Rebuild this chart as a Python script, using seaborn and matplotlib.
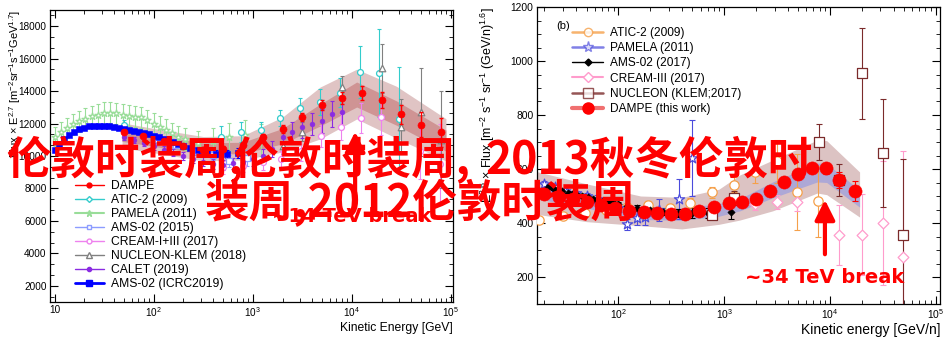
import numpy as np
import matplotlib
matplotlib.use('Agg')
import matplotlib.pyplot as plt
from matplotlib.lines import Line2D
from matplotlib.ticker import MultipleLocator, LogLocator, NullFormatter
import seaborn as sns

sns.set_theme(style='ticks')
plt.rcParams['font.family'] = ['Liberation Sans', 'DejaVu Sans']
plt.rcParams['mathtext.default'] = 'regular'
plt.rcParams.update({'axes.edgecolor': 'black', 'xtick.color': 'black', 'ytick.color': 'black',
                     'text.color': 'black', 'axes.labelcolor': 'black'})

# ---------------- left panel: proton flux x E^2.7 ----------------
l_band_e = [48, 100, 316, 794, 2000, 4790, 11200, 28200, 89100]
l_outer_hi = [12050, 11700, 11200, 11250, 12400, 14250, 15350, 14300, 12300]
l_inner_hi = [11700, 11300, 10800, 10850, 11700, 13200, 14560, 13400, 11600]
l_inner_lo = [10900, 10600, 10100, 10150, 10750, 11850, 13020, 11900, 10300]
l_outer_lo = [10500, 10200, 9700, 9750, 10250, 11050, 12280, 11100, 9700]

dampe_l_e = [50, 79, 126, 200, 316, 501, 794, 1260, 2000, 3160, 5010, 7940, 12600, 20000, 31600, 50100, 79400]
dampe_l_f = [11480, 11240, 10950, 10620, 10400, 10450, 10680, 11170, 11670, 12400, 13150, 13570, 13880, 13450, 12560, 11940, 11450]
dampe_l_err = [120, 120, 120, 130, 140, 150, 170, 200, 230, 260, 300, 350, 420, 500, 600, 750, 900]

atic_l_e = [50, 479, 759, 1200, 1900, 3020, 4790, 7590, 12000, 19000, 30200]
atic_l_f = [11900, 11170, 11480, 11600, 12340, 12960, 13300, 13900, 15170, 15100, 12300]
atic_l_err = [300, 700, 600, 500, 500, 600, 800, 900, 1600, 2700, 3200]

pam_l_e = [10.0, 11.5, 13.3, 15.4, 17.8, 20.5, 23.7, 27.4, 31.6, 36.5, 42.2, 48.7, 56.2, 64.9, 75.0,
           86.6, 100, 115, 133, 154, 178, 205, 282, 398, 575, 832, 1200]
pam_l_f = [11200, 11450, 11700, 11950, 12150, 12300, 12450, 12550, 12650, 12680, 12620, 12550, 12470, 12420, 12380,
           12200, 11980, 11800, 11600, 11400, 11200, 11050, 10800, 10950, 11170, 11300, 11000]
pam_l_err = [600, 620, 620, 640, 650, 650, 650, 650, 650, 650, 650, 650, 650, 650, 650,
             650, 650, 650, 660, 660, 680, 700, 750, 800, 850, 900, 1000]

ams15_e = [110, 170, 260, 400, 575, 870]
ams15_f = [11050, 10650, 10300, 10050, 9700, 9900]
ams15_err = [150, 180, 220, 280, 350, 500]

cream_l_e = [501, 794, 1260, 1950, 3090, 4900, 7760, 12300, 19500, 48900, 77600]
cream_l_f = [9300, 9400, 9600, 9820, 10300, 11230, 11790, 12340, 12400, 10310, 9500]
cream_l_err = [400, 400, 450, 500, 600, 700, 800, 900, 1100, 1700, 2500]

nuc_l_e = [2000, 3160, 7940, 20000, 31600, 50100, 79400]
nuc_l_f = [10600, 11500, 14250, 15400, 11800, 12700, 11000]
nuc_l_err = [500, 600, 700, 1500, 1700, 2700, 3000]

calet_e = [50.1, 63.1, 79.4, 100, 126, 158, 200, 251, 316, 398, 501, 631, 794, 1000, 1260, 1580,
           2000, 2510, 3160, 3980, 5010, 6310, 7940]
calet_f = [11200, 11000, 10800, 10600, 10400, 10200, 10000, 9800, 9650, 9500, 9450, 9550, 9630, 9800, 10000, 10450,
           11170, 11480, 11790, 11970, 12160, 12590, 12710]
calet_err = [200, 200, 200, 200, 200, 220, 240, 260, 280, 300, 320, 350, 380, 400, 450, 500,
             550, 600, 650, 700, 750, 800, 900]

ams19_e = [10, 11.2, 12.6, 14.1, 15.8, 17.8, 20.0, 22.4, 25.1, 28.2, 31.6, 35.5, 39.8, 44.7, 50.1, 56.2, 63.1,
           70.8, 79.4, 89.1, 100, 112, 126, 141, 158, 178, 200, 234, 282, 347, 427, 550, 708]
ams19_f = [10400, 10750, 11050, 11300, 11500, 11650, 11750, 11820, 11850, 11860, 11850, 11820, 11780, 11730, 11670,
           11610, 11540, 11470, 11400, 11330, 11250, 11160, 11060, 10950, 10840, 10730, 10620, 10480, 10340, 10220,
           10150, 10130, 10190]
ams19_err = [60, 60, 60, 60, 60, 60, 60, 60, 60, 60, 60, 60, 60, 60, 70, 70, 70, 70, 80, 80, 80, 90, 90, 100,
             100, 110, 120, 140, 160, 190, 220, 260, 300]

legend_l = ['DAMPE', 'ATIC-2 (2009)', 'PAMELA (2011)', 'AMS-02 (2015)', 'CREAM-I+III (2017)',
            'NUCLEON-KLEM (2018)', 'CALET (2019)', 'AMS-02 (ICRC2019)']

# ---------------- right panel: helium flux x E^2.6 ----------------
r_band_e = [17, 50, 162, 398, 891, 1410, 2880, 7590, 9330, 19100]
r_outer_hi = [590, 545, 500, 495, 525, 578, 633, 707, 705, 589]
r_inner_hi = [535, 498, 459, 455, 472, 490, 552, 622, 620, 522]
r_inner_lo = [490, 455, 413, 410, 425, 445, 493, 552, 550, 459]
r_outer_lo = [432, 405, 390, 378, 395, 411, 445, 511, 505, 422]

dampe_r_e = [20, 27.5, 37.2, 50.1, 69.2, 93.3, 126, 174, 234, 316, 427, 575, 794, 1100, 1480, 2000, 2690,
             3720, 5010, 6760, 9120, 12300, 17400]
dampe_r_f = [508, 498, 488, 478, 465, 455, 446, 441, 437, 433, 433, 444, 459, 474, 478, 489, 519, 552, 581,
             604, 603, 559, 519]
dampe_r_err = [6, 6, 6, 6, 6, 6, 6, 7, 7, 7, 8, 8, 9, 10, 11, 12, 13, 15, 17, 18, 20, 30, 36]

atic_r_e = [17.8, 30, 48, 76, 120, 191, 309, 479, 776, 1230, 1950, 3160, 4900, 7760]
atic_r_f = [411, 425, 438, 448, 458, 467, 456, 474, 513, 541, 590, 628, 515, 480]
atic_r_err = [12, 12, 12, 13, 14, 15, 16, 20, 22, 28, 40, 80, 140, 130]

pam_r_e = [20, 25.1, 31.6, 39.8, 50.1, 63.1, 79.4, 100, 120, 151, 178, 240, 372, 501]
pam_r_f = [545, 535, 520, 510, 500, 490, 470, 455, 395, 418, 422, 448, 489, 640]
pam_r_err = [10, 10, 10, 10, 12, 12, 15, 15, 20, 25, 30, 40, 74, 140]

ams_r_e = [21.4, 23.9, 26.3, 29.5, 33.1, 36.3, 40.7, 45.7, 51.3, 57.5, 63.1, 70.8, 79.4, 89.1, 100, 120,
           151, 200, 263, 363, 501, 708, 1150]
ams_r_f = [533, 528, 522, 518, 511, 508, 504, 500, 496, 490, 485, 482, 478, 474, 470, 463, 456, 448, 442,
           437, 437, 437, 442]
ams_r_err = [6, 6, 6, 6, 6, 6, 6, 6, 6, 6, 7, 7, 7, 7, 8, 8, 9, 10, 12, 14, 17, 20, 26]

cream_r_e = [1950, 3160, 4900, 12300, 20000, 31600, 49000]
cream_r_f = [470, 478, 478, 356, 356, 400, 275]
cream_r_err = [20, 25, 35, 110, 150, 230, 390]

nuc_r_e = [776, 1230, 7940, 12300, 20000, 31600, 49000]
nuc_r_f = [430, 493, 700, 559, 954, 658, 356]
nuc_r_err = [15, 25, 67, 60, 170, 200, 280]

legend_r = ['ATIC-2 (2009)', 'PAMELA (2011)', 'AMS-02 (2017)', 'CREAM-III (2017)',
            'NUCLEON (KLEM;2017)', 'DAMPE (this work)']

# overlay text pieces, with their left edge in pixels
overlay_1 = ['伦敦时装周,', '伦敦时装周,', '2013秋冬伦敦时']
overlay_1_x = [6, 233, 485]
overlay_2 = '装周,2012伦敦时装周'


def draw(ax, e, f, err, color, marker, size, filled=True, lw=0.8, cap=1.5, z=3):
    ax.errorbar(e, f, yerr=err, fmt='none', ecolor=color, elinewidth=lw, capsize=cap,
                capthick=lw, zorder=z)
    if filled:
        sns.scatterplot(x=np.array(e), y=np.array(f), ax=ax, color=color, marker=marker, s=size,
                        edgecolor=color, linewidth=0.4, zorder=z + 0.5, legend=False)
    else:
        ax.scatter(e, f, s=size, marker=marker, facecolors='white', edgecolors=color,
                   linewidths=0.9, zorder=z + 0.5)


def style(ax, xlim, ylim, ymaj, ymin, xticks, xlabels):
    ax.set_xscale('log')
    ax.set_xlim(*xlim)
    ax.set_ylim(*ylim)
    ax.yaxis.set_major_locator(MultipleLocator(ymaj))
    ax.yaxis.set_minor_locator(MultipleLocator(ymin))
    ax.set_xticks(xticks, xlabels)
    ax.xaxis.set_minor_locator(LogLocator(base=10, subs=np.arange(2, 10)))
    ax.xaxis.set_minor_formatter(NullFormatter())
    ax.tick_params(which='both', direction='in', top=True, right=True, pad=2.5)
    ax.tick_params(which='major', length=6, width=0.8)
    ax.tick_params(which='minor', length=3, width=0.6)
    for sp in ax.spines.values():
        sp.set_color('black')
        sp.set_linewidth(0.9)


fig = plt.figure(figsize=(9.51, 3.52), dpi=100)
axL = fig.add_axes([50 / 951, 50 / 352, 403 / 951, 292 / 352])
axR = fig.add_axes([537 / 951, 48 / 352, 403 / 951, 297 / 352])

# ---- left panel ----
style(axL, (9, 1.05e5), (1000, 19000), 2000, 2000 / 3, [10, 1e2, 1e3, 1e4, 1e5],
      ['10', '$10^2$', '$10^3$', '$10^4$', '$10^5$'])
axL.fill_between(l_band_e, l_outer_lo, l_outer_hi, color='#e0c4c4', lw=0, zorder=1)
axL.fill_between(l_band_e, l_inner_lo, l_inner_hi, color='#cf9494', lw=0, zorder=1.1)

c_atic, c_pam, c_ams15, c_cream = '#33cccc', '#99dd99', '#8c9cff', '#ee82ee'
c_nuc, c_calet, c_ams19 = '#808080', '#8a2be2', '#0000ff'
draw(axL, pam_l_e, pam_l_f, pam_l_err, c_pam, '*', 28, filled=False)
draw(axL, ams15_e, ams15_f, ams15_err, c_ams15, 's', 14, filled=False)
draw(axL, atic_l_e, atic_l_f, atic_l_err, c_atic, 'o', 18, filled=False)
draw(axL, cream_l_e, cream_l_f, cream_l_err, c_cream, 'o', 18, filled=False)
draw(axL, nuc_l_e, nuc_l_f, nuc_l_err, c_nuc, '^', 22, filled=False)
draw(axL, calet_e, calet_f, calet_err, c_calet, 'o', 12)
draw(axL, ams19_e, ams19_f, ams19_err, c_ams19, 's', 16)
draw(axL, dampe_l_e, dampe_l_f, dampe_l_err, 'red', 'o', 26, lw=1.0, z=5)

axL.set_xlabel('Kinetic Energy [GeV]', loc='right', fontsize=8.7, labelpad=2)
axL.set_ylabel('Flux $\\times$ E$^{2.7}$ [m$^{-2}$sr$^{-1}$s$^{-1}$GeV$^{1.7}$]', loc='top', fontsize=8)
axL.yaxis.set_label_coords(-0.068, 1)
axL.tick_params(labelsize=7.2)

handles_l = [
    Line2D([], [], color='red', lw=1, marker='o', ms=3.5, mfc='red', mec='red'),
    Line2D([], [], color=c_atic, lw=1, marker='D', ms=3, mfc='white', mec=c_atic),
    Line2D([], [], color=c_pam, lw=1.5, marker='*', ms=5, mfc=c_pam, mec=c_pam),
    Line2D([], [], color=c_ams15, lw=1, marker='s', ms=3.5, mfc='white', mec=c_ams15),
    Line2D([], [], color=c_cream, lw=1, marker='o', ms=3.5, mfc='white', mec=c_cream),
    Line2D([], [], color=c_nuc, lw=1, marker='^', ms=4, mfc='white', mec=c_nuc),
    Line2D([], [], color=c_calet, lw=1, marker='o', ms=3, mfc=c_calet, mec=c_calet),
    Line2D([], [], color=c_ams19, lw=2, marker='s', ms=4, mfc=c_ams19, mec=c_ams19),
]
axL.legend(handles_l, legend_l, loc='upper left', bbox_to_anchor=(0.062, 0.418), frameon=False,
           fontsize=8.7, handlelength=2.4, handletextpad=0.6, labelspacing=0.17, borderpad=0,
           borderaxespad=0)

axL.annotate('', xy=(10800, 11670), xytext=(10800, 7000),
             arrowprops=dict(arrowstyle='-|>', color='red', lw=3, mutation_scale=30), zorder=6)
axL.text(9890, 6250, '~14 TeV break', color='red', fontsize=14, fontweight='bold',
         family='DejaVu Sans', ha='center', va='center', zorder=6)

# ---- right panel ----
style(axR, (17, 1.1e5), (100, 1200), 200, 50, [1e2, 1e3, 1e4, 1e5],
      ['$10^2$', '$10^3$', '$10^4$', '$10^5$'])
axR.fill_between(r_band_e, r_outer_lo, r_outer_hi, color='#dcc3c3', lw=0, zorder=1)
axR.fill_between(r_band_e, r_inner_lo, r_inner_hi, color='#ada8d6', lw=0, zorder=1.1)

c_atic_r, c_pam_r, c_cream_r, c_nuc_r = '#f5a04a', '#4b4bdc', '#ff9ccc', '#7b2b2b'
draw(axR, atic_r_e, atic_r_f, atic_r_err, c_atic_r, 'o', 45, filled=False, cap=2)
draw(axR, pam_r_e, pam_r_f, pam_r_err, c_pam_r, '*', 60, filled=False, cap=2)
draw(axR, ams_r_e, ams_r_f, ams_r_err, 'black', 'D', 14, cap=2)
draw(axR, cream_r_e, cream_r_f, cream_r_err, c_cream_r, 'D', 30, filled=False, cap=2)
draw(axR, nuc_r_e, nuc_r_f, nuc_r_err, c_nuc_r, 's', 50, filled=False, cap=2.5)
draw(axR, dampe_r_e, dampe_r_f, dampe_r_err, 'red', 'o', 90, cap=2, z=5)

axR.set_xlabel('Kinetic energy [GeV/n]', loc='right', fontsize=10, labelpad=1)
axR.set_ylabel('E$^{2.6}$ $\\times$ Flux [m$^{-2}$ s$^{-1}$ sr$^{-1}$ (GeV/n)$^{1.6}$]', loc='top', fontsize=9)
axR.yaxis.set_label_coords(-0.1, 1)
axR.tick_params(labelsize=7.4)

handles_r = [
    Line2D([], [], color=c_atic_r, lw=1.8, alpha=0.8, marker='o', ms=6, mfc='white', mec=c_atic_r),
    Line2D([], [], color=c_pam_r, lw=1.8, alpha=0.7, marker='*', ms=8, mfc='white', mec=c_pam_r),
    Line2D([], [], color='black', lw=1, marker='D', ms=3.5, mfc='black', mec='black'),
    Line2D([], [], color=c_cream_r, lw=1.5, marker='D', ms=5, mfc='white', mec=c_cream_r),
    Line2D([], [], color=c_nuc_r, lw=1.8, alpha=0.8, marker='s', ms=6.5, mfc='white', mec=c_nuc_r),
    Line2D([], [], color='#f07070', lw=3, marker='o', ms=8, mfc='red', mec='red'),
]
axR.legend(handles_r, legend_r, loc='upper left', bbox_to_anchor=(0.087, 0.933), frameon=False,
           fontsize=8.6, handlelength=2.6, handletextpad=0.55, labelspacing=0.27, borderpad=0,
           borderaxespad=0)
axR.text(0.048, 0.935, '(b)', transform=axR.transAxes, fontsize=8, ha='left', va='center')

axR.annotate('', xy=(8980, 496), xytext=(8980, 274),
             arrowprops=dict(arrowstyle='-|>', color='red', lw=3, mutation_scale=30), zorder=6)
axR.text(8980, 197, '~34 TeV break', color='red', fontsize=14, fontweight='bold',
         family='DejaVu Sans', ha='center', va='center', zorder=6)

# ---- overlay text ----
cjk = ['Noto Sans CJK SC', 'DejaVu Sans']
for piece, px in zip(overlay_1, overlay_1_x):
    fig.text(px / 951, 1 - 160 / 352, piece, color='#ff0000', fontsize=32, fontweight='bold',
             family=cjk, ha='left', va='center', zorder=10)
fig.text(205 / 951, 1 - 203 / 352, overlay_2, color='#ff0000', fontsize=32, fontweight='bold',
         family=cjk, ha='left', va='center', zorder=10)

fig.savefig('out.png', dpi=100)
